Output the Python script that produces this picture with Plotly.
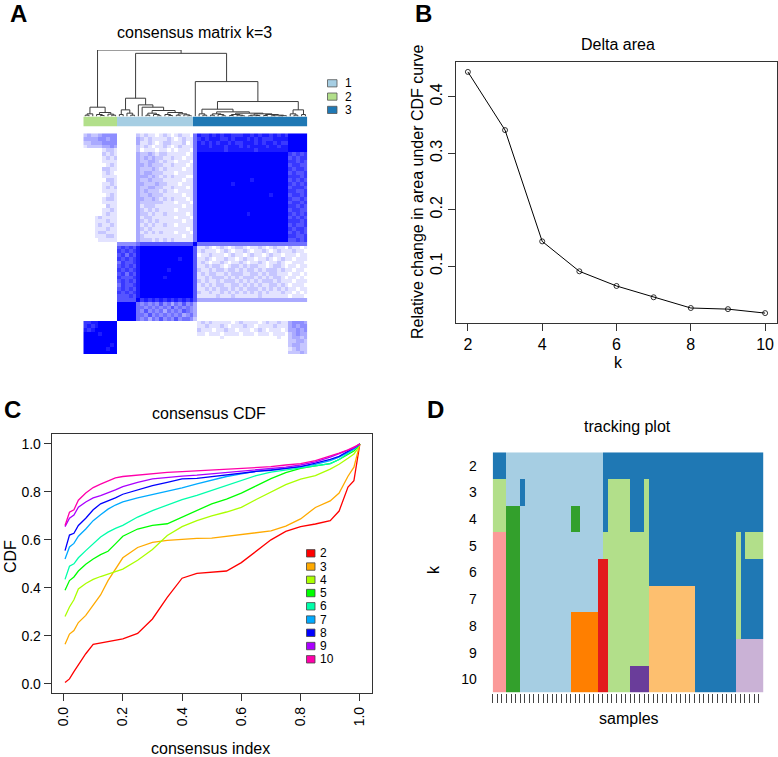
import plotly.graph_objects as go

W, H = 778, 757
FONT = "Liberation Sans, Arial, Helvetica, sans-serif"

# ---------------- A: consensus matrix, k=3 ----------------
# consensus level per cell, 0 (white) .. 9 (blue); rows top->bottom, columns in tree order
# column blocks: 9 | 5 | 1 | 14 | 1 | 24 | 5
cm_rows = [
    ("232234444", "00000", "2", "1211012" "1012110", "5", "877878" "788777" "887878" "878787", "99999"),
    ("333344344", "00000", "3", "2121111" "2101211", "5", "787888" "778788" "878787" "778888", "99999"),
    ("223334444", "00000", "3", "1121012" "2111201", "5", "878787" "887877" "888787" "887877", "99999"),
    ("122223343", "00000", "2", "1210112" "1012111", "5", "888788" "878887" "878888" "788788", "99999"),
    ("000001221", "00000", "2", "0111011" "0101110", "5", "888888" "878888" "888788" "888888", "99999"),
    ("000002121", "00000", "3", "2232122" "1111101", "5", "999999" "999999" "999999" "999999", "76767"),
    ("000001212", "00000", "3", "2323221" "1211011", "5", "999999" "999999" "999999" "999999", "67677"),
    ("000001111", "00000", "3", "2233212" "1101110", "5", "999999" "999999" "999999" "999999", "77676"),
    ("000000121", "00000", "3", "3232221" "1211101", "5", "999999" "999999" "999999" "999999", "67766"),
    ("000002211", "00000", "3", "2223212" "1111011", "5", "999999" "999999" "999999" "999999", "76776"),
    ("000001210", "00000", "3", "2332221" "1101111", "5", "999999" "999999" "999999" "999999", "67667"),
    ("000001111", "00000", "3", "3323212" "1211100", "5", "999999" "999999" "999999" "999999", "77767"),
    ("000000221", "00000", "3", "2232221" "1111011", "5", "999999" "999999" "998999" "999999", "67676"),
    ("000001121", "00000", "3", "3222322" "1110111", "5", "999999" "999899" "999999" "999999", "76767"),
    ("000001212", "00000", "3", "2233221" "1211101", "5", "999999" "999999" "999999" "999999", "67776"),
    ("000001111", "00000", "3", "2322212" "1101111", "5", "999999" "999999" "999999" "999999", "77667"),
    ("000000121", "00000", "3", "2232221" "1111011", "5", "999999" "999999" "999999" "989999", "67767"),
    ("000001221", "00000", "3", "3223212" "1211101", "5", "999999" "999999" "999999" "999999", "76676"),
    ("000001111", "00000", "3", "2222221" "1101110", "5", "999999" "999999" "999999" "999999", "67767"),
    ("000000211", "00000", "3", "1222111" "1111011", "5", "999999" "999999" "999999" "999999", "77676"),
    ("000001121", "00000", "3", "2121211" "1101111", "5", "999999" "999999" "999999" "999999", "67766"),
    ("000001211", "00000", "3", "2212112" "1111101", "5", "999999" "999999" "989999" "999999", "76767"),
    ("000121111", "00000", "3", "1221111" "1101110", "5", "999999" "999999" "999999" "999999", "67676"),
    ("000111211", "00000", "3", "2121211" "1111011", "5", "999999" "999999" "999999" "999999", "77767"),
    ("000121121", "00000", "3", "1212112" "1101111", "5", "999999" "999999" "999999" "999999", "67667"),
    ("000111211", "00000", "3", "2121111" "1111101", "5", "999999" "999999" "999999" "999999", "76776"),
    ("000122111", "00000", "3", "1212121" "1101110", "5", "999999" "999999" "999999" "999999", "67676"),
    ("000111221", "00000", "3", "2111111" "1111011", "5", "999999" "999999" "999999" "999999", "77667"),
    ("000011111", "00000", "3", "2221212" "1211111", "5", "999999" "999999" "999999" "999999", "66767"),
    ("000000000", "44444", "5", "6666666" "6666666", "9", "555555" "555555" "555555" "555555", "55555"),
    ("000000000", "67676", "8", "9999999" "9999999", "6", "112101" "210122" "101121" "012110", "21101"),
    ("000000000", "76767", "8", "9999999" "9999999", "6", "121110" "121011" "210112" "101211", "12110"),
    ("000000000", "67576", "8", "9999999" "9999999", "6", "011211" "101211" "012110" "121101", "11011"),
    ("000000000", "76767", "8", "9999999" "9998999", "6", "112101" "121101" "211011" "210121", "10111"),
    ("000000000", "57667", "8", "9999999" "9999999", "6", "121011" "210112" "101121" "011210", "01110"),
    ("000000000", "67676", "8", "9999999" "9999999", "6", "112122" "101221" "212211" "012210", "11011"),
    ("000000000", "76767", "8", "9999999" "8999999", "6", "211212" "212212" "122121" "222121", "10110"),
    ("000000000", "67576", "8", "9999999" "9999999", "6", "121221" "121222" "112212" "122111", "01101"),
    ("000000000", "76667", "8", "9999998" "9999999", "6", "112122" "212121" "222121" "212210", "11010"),
    ("000000000", "67676", "8", "9999999" "9999999", "6", "212112" "122212" "121212" "221211", "10111"),
    ("000000000", "57667", "8", "9999999" "9999999", "6", "121212" "211221" "212121" "122121", "01110"),
    ("000000000", "67676", "8", "9999999" "9999999", "6", "112121" "221212" "122212" "121212", "11011"),
    ("000000000", "76767", "8", "9999999" "9999999", "6", "211211" "212121" "212121" "211121", "10101"),
    ("000000000", "66676", "8", "9999999" "9999999", "6", "111112" "111211" "111121" "111111", "01110"),
    ("000000000", "66666", "9", "7878787" "8787878", "6", "333333" "333333" "333333" "333333", "33333"),
    ("000000000", "99999", "5", "4545464" "5354645", "3", "000000" "000000" "000000" "000000", "00000"),
    ("000000000", "99999", "5", "5454545" "4645454", "3", "000000" "000000" "000000" "000000", "00000"),
    ("000000000", "99999", "5", "4645453" "5454654", "3", "000000" "000000" "000000" "000000", "00000"),
    ("000000000", "99999", "5", "5464545" "4545345", "3", "000000" "000000" "000000" "000000", "00000"),
    ("000000000", "99999", "5", "4535464" "5464554", "2", "000000" "000000" "000000" "000000", "00000"),
    ("778899999", "00000", "0", "0000000" "0000000", "0", "121211" "111012" "111101" "211211", "34443"),
    ("787899999", "00000", "0", "0000000" "0000000", "0", "112111" "210111" "211011" "112111", "34344"),
    ("878999999", "00000", "0", "0000000" "0000000", "0", "211101" "121101" "110121" "011101", "33434"),
    ("999989999", "00000", "0", "0000000" "0000000", "0", "110111" "011110" "111011" "101110", "23433"),
    ("999999999", "00000", "0", "0000000" "0000000", "0", "000000" "100000" "000000" "000100", "23323"),
    ("999999999", "00000", "0", "0000000" "0000000", "0", "000000" "000000" "000000" "000000", "22332"),
    ("999999989", "00000", "0", "0000000" "0000000", "0", "000000" "000000" "000000" "000000", "23322"),
    ("999999899", "00000", "0", "0000000" "0000000", "0", "000000" "000000" "000000" "000000", "12322"),
    ("999999999", "00000", "0", "0000000" "0000000", "0", "000000" "000000" "000000" "000000", "22232"),
]

# k=3 cluster of each column (1, 2, 3), as runs of (cluster, count)
k3_runs = [(2, 9), (1, 20), (3, 30)]
k3_labels = ["1", "2", "3"]
k3_colors = ["#A6CEE3", "#B2DF8A", "#1F78B4"]

# sample tree above the matrix: (height, left, right), leaves are column numbers
tree_c2 = (0.14, (0.04, (0.02, 0, 1), 2), (0.06, (0.03, 3, (0.015, 4, 5)), (0.035, 6, (0.02, 7, 8))))
tree_c1 = (0.275,
           (0.1, (0.03, 9, 10), (0.05, 11, (0.02, 12, 13))),
           (0.175, 14, (0.14, 15, (0.09,
                                   (0.05, (0.02, 16, 17), (0.03, 18, (0.01, 19, 20))),
                                   (0.06, (0.03, 21, (0.015, 22, 23)),
                                    (0.04, (0.02, 24, 25), (0.025, 26, (0.01, 27, 28))))))))
tree_c3a = (0.11, (0.04, 30, (0.02, 31, 32)),
            (0.07, (0.04, (0.02, 33, 34), (0.03, 35, (0.01, 36, 37))),
             (0.05, (0.03, (0.015, 38, 39), (0.02, 40, (0.01, 41, 42))),
              (0.04, (0.02, (0.01, 43, 44), (0.015, 45, 46)),
               (0.03, (0.015, 47, 48), (0.02, (0.01, 49, 50), (0.012, (0.008, 51, 52), 53)))))))
tree_c3b = (0.1, (0.04, 54, (0.02, 55, 56)), (0.03, 57, 58))
tree_root = (1.0, tree_c2, (0.95, tree_c1, (0.525, 29, (0.225, tree_c3a, tree_c3b))))

# ---------------- B: delta area ----------------
k_values = [2, 3, 4, 5, 6, 7, 8, 9, 10]
delta_area = [0.444, 0.341, 0.144, 0.091, 0.065, 0.045, 0.026, 0.024, 0.017]

# ---------------- C: consensus CDF ----------------
cdf_x = [0.005, 0.02, 0.035, 0.05, 0.075, 0.1, 0.125, 0.15, 0.175, 0.2, 0.25, 0.3, 0.35, 0.4,
         0.45, 0.5, 0.55, 0.6, 0.65, 0.7, 0.75, 0.8, 0.85, 0.9, 0.93, 0.96, 0.98, 0.99, 1.0]
cdf_k2 = [0.005, 0.02, 0.05, 0.08, 0.125, 0.164, 0.17, 0.176, 0.181, 0.187, 0.21, 0.27, 0.36, 0.44,
          0.46, 0.464, 0.47, 0.505, 0.553, 0.6, 0.635, 0.655, 0.666, 0.68, 0.72, 0.82, 0.847, 0.917, 1.0]
cdf_k3 = [0.165, 0.207, 0.222, 0.255, 0.285, 0.325, 0.37, 0.43, 0.48, 0.525, 0.568, 0.589, 0.598, 0.603,
          0.606, 0.607, 0.615, 0.624, 0.629, 0.637, 0.657, 0.687, 0.735, 0.762, 0.795, 0.865, 0.903, 0.951, 1.0]
cdf_k4 = [0.28, 0.32, 0.35, 0.395, 0.418, 0.435, 0.447, 0.458, 0.468, 0.478, 0.515, 0.56, 0.618, 0.655,
          0.68, 0.7, 0.716, 0.735, 0.768, 0.8, 0.83, 0.853, 0.868, 0.895, 0.915, 0.94, 0.958, 0.975, 1.0]
cdf_k5 = [0.39, 0.43, 0.445, 0.47, 0.498, 0.52, 0.538, 0.552, 0.583, 0.615, 0.645, 0.66, 0.667, 0.695,
          0.72, 0.75, 0.77, 0.795, 0.825, 0.855, 0.88, 0.898, 0.908, 0.918, 0.935, 0.955, 0.97, 0.985, 1.0]
cdf_k6 = [0.435, 0.49, 0.5, 0.525, 0.555, 0.585, 0.612, 0.632, 0.648, 0.66, 0.695, 0.722, 0.745, 0.768,
          0.785, 0.805, 0.825, 0.845, 0.868, 0.882, 0.892, 0.9, 0.908, 0.918, 0.935, 0.96, 0.975, 0.987, 1.0]
cdf_k7 = [0.52, 0.57, 0.585, 0.615, 0.645, 0.68, 0.705, 0.728, 0.745, 0.758, 0.775, 0.788, 0.802, 0.817,
          0.833, 0.85, 0.864, 0.875, 0.886, 0.893, 0.898, 0.905, 0.915, 0.93, 0.945, 0.965, 0.978, 0.989, 1.0]
cdf_k8 = [0.555, 0.62, 0.627, 0.66, 0.69, 0.725, 0.75, 0.762, 0.775, 0.79, 0.808, 0.826, 0.84, 0.854,
          0.856, 0.864, 0.872, 0.879, 0.885, 0.89, 0.896, 0.905, 0.92, 0.935, 0.948, 0.968, 0.98, 0.99, 1.0]
cdf_k9 = [0.655, 0.69, 0.703, 0.736, 0.758, 0.775, 0.784, 0.795, 0.808, 0.822, 0.84, 0.854, 0.861, 0.866,
          0.87, 0.875, 0.882, 0.887, 0.892, 0.897, 0.903, 0.912, 0.925, 0.945, 0.958, 0.972, 0.983, 0.992, 1.0]
cdf_k10 = [0.66, 0.715, 0.725, 0.765, 0.795, 0.818, 0.832, 0.846, 0.858, 0.864, 0.87, 0.876, 0.881, 0.884,
           0.887, 0.89, 0.893, 0.897, 0.9, 0.905, 0.912, 0.918, 0.93, 0.948, 0.962, 0.975, 0.985, 0.993, 1.0]
cdf_curves = [cdf_k2, cdf_k3, cdf_k4, cdf_k5, cdf_k6, cdf_k7, cdf_k8, cdf_k9, cdf_k10]
cdf_colors = ["#FF0000", "#FFAA00", "#AAFF00", "#00FF00", "#00FFAA",
              "#00AAFF", "#0000FF", "#AA00FF", "#FF00AA"]

# ---------------- D: tracking plot ----------------
# cluster colour number of every sample for each k, as runs of (colour, count)
track_runs = [
    [(2, 3), (1, 21), (2, 35)],
    [(3, 3), (1, 3), (2, 1), (1, 17), (2, 1), (3, 5), (2, 3), (3, 1), (2, 25)],
    [(3, 3), (4, 3), (1, 11), (4, 2), (1, 5), (2, 1), (3, 5), (2, 3), (3, 1), (2, 25)],
    [(5, 3), (4, 3), (1, 18), (3, 10), (2, 19), (3, 1), (2, 1), (3, 4)],
    [(5, 3), (4, 3), (1, 17), (6, 2), (3, 9), (2, 19), (3, 1), (2, 5)],
    [(5, 3), (4, 3), (1, 17), (6, 2), (3, 9), (7, 10), (2, 9), (3, 1), (2, 5)],
    [(5, 3), (4, 3), (1, 11), (8, 6), (6, 2), (3, 9), (7, 10), (2, 9), (3, 1), (2, 5)],
    [(5, 3), (4, 3), (1, 11), (8, 6), (6, 2), (3, 9), (7, 10), (2, 9), (9, 6)],
    [(5, 3), (4, 3), (1, 11), (8, 6), (6, 2), (3, 5), (10, 4), (7, 10), (2, 9), (9, 6)],
]
paired = ["#A6CEE3", "#1F78B4", "#B2DF8A", "#33A02C", "#FB9A99",
          "#E31A1C", "#FDBF6F", "#FF7F00", "#CAB2D6", "#6A3D9A"]


def unrun(runs):
    out = []
    for val, cnt in runs:
        out += [val] * cnt
    return out


def tree_lines(node, xs, ys):
    if isinstance(node, int):
        return float(node), 0.0
    h, left, right = node
    xl, hl = tree_lines(left, xs, ys)
    xr, hr = tree_lines(right, xs, ys)
    xs += [xl, xl, xr, xr, None]
    ys += [hl, h, h, hr, None]
    return (xl + xr) / 2, h


def step_scale(colors):
    n = len(colors)
    scale = []
    for i, c in enumerate(colors):
        scale += [[i / n, c], [(i + 1) / n, c]]
    return scale


def fx(px):
    return px / W


def fy(py):
    return 1 - py / H


cm_z = [[int(ch) for ch in "".join(r)] for r in cm_rows]
n = len(cm_z)
assert all(len(r) == n for r in cm_z)
k3_ids = unrun(k3_runs)
track_z = [unrun(r) for r in track_runs]
assert all(len(r) == n for r in track_z)

tx, ty = [], []
tree_lines(tree_root, tx, ty)

fig = go.Figure()

fig.add_trace(go.Heatmap(z=cm_z, x=list(range(n)), y=list(range(n)), zmin=0, zmax=9,
                         colorscale=[[0, "#FFFFFF"], [1, "#0000FF"]], showscale=False,
                         xaxis="x", yaxis="y", hoverinfo="skip"))
fig.add_trace(go.Scatter(x=tx, y=ty, mode="lines", line=dict(color="#3c3c3c", width=1),
                         xaxis="x2", yaxis="y2", cliponaxis=False, hoverinfo="skip"))
fig.add_trace(go.Heatmap(z=[k3_ids], x=list(range(n)), y=[0], zmin=0.5, zmax=3.5,
                         colorscale=step_scale(k3_colors), showscale=False,
                         xaxis="x3", yaxis="y3", hoverinfo="skip"))

fig.add_trace(go.Scatter(x=k_values, y=delta_area, mode="lines+markers",
                         line=dict(color="black", width=1),
                         marker=dict(symbol="circle-open", size=5, color="black", line=dict(width=0.8)),
                         xaxis="x4", yaxis="y4", cliponaxis=False))

for k, ys, col in zip(k_values, cdf_curves, cdf_colors):
    fig.add_trace(go.Scatter(x=cdf_x, y=ys, mode="lines", name=str(k),
                             line=dict(color=col, width=1.3), xaxis="x5", yaxis="y5"))

fig.add_trace(go.Heatmap(z=track_z, x=list(range(n)), y=k_values, zmin=0.5, zmax=10.5,
                         colorscale=step_scale(paired), showscale=False,
                         xaxis="x6", yaxis="y6", hoverinfo="skip"))

hidden = dict(showgrid=False, zeroline=False, showticklabels=False, ticks="", showline=False)
boxed = dict(showgrid=False, zeroline=False, showline=True, mirror=True, linecolor="#333",
             linewidth=1, ticks="outside", ticklen=7, tickwidth=1, tickcolor="#333")

col_range = [-0.5, n - 0.5]
A_x = [fx(83.3), fx(307.3)]

layout_axes = dict(
    xaxis=dict(domain=A_x, range=col_range, anchor="y", **hidden),
    yaxis=dict(domain=[fy(354), fy(133.3)], range=[n - 0.5, -0.5], anchor="x", **hidden),
    xaxis2=dict(domain=A_x, range=col_range, anchor="y2", **hidden),
    yaxis2=dict(domain=[fy(116.5), fy(50)], range=[0, 1], anchor="x2", **hidden),
    xaxis3=dict(domain=A_x, range=col_range, anchor="y3", **hidden),
    yaxis3=dict(domain=[fy(126.5), fy(116.5)], range=[-0.5, 0.5], anchor="x3", **hidden),
    xaxis4=dict(domain=[fx(456), fx(777)], range=[1.68, 10.32], anchor="y4",
                tickvals=[2, 4, 6, 8, 10], tickfont=dict(size=16), **boxed),
    yaxis4=dict(domain=[fy(322.7), fy(62.3)], range=[0.0, 0.461], anchor="x4",
                tickvals=[0.1, 0.2, 0.3, 0.4], tickangle=-90, tickfont=dict(size=16), **boxed),
    xaxis5=dict(domain=[fx(51.7), fx(371.7)], range=[-0.04, 1.04], anchor="y5",
                tickvals=[0, 0.2, 0.4, 0.6, 0.8, 1.0],
                ticktext=["0.0", "0.2", "0.4", "0.6", "0.8", "1.0"],
                tickangle=-90, tickfont=dict(size=14), **boxed),
    yaxis5=dict(domain=[fy(693.3), fy(434.3)], range=[-0.04, 1.04], anchor="x5",
                tickvals=[0, 0.2, 0.4, 0.6, 0.8, 1.0],
                ticktext=["0.0", "0.2", "0.4", "0.6", "0.8", "1.0"],
                tickfont=dict(size=14), **boxed),
    xaxis6=dict(domain=[fx(492.7), fx(763.3)], range=col_range, anchor="y6",
                showgrid=False, zeroline=False, showline=False, showticklabels=False,
                tickvals=[i - 0.5 for i in range(n)], ticks="outside", ticklen=9,
                tickwidth=1, tickcolor="#444"),
    yaxis6=dict(domain=[fy(692.7), fy(452.3)], range=[10.5, 1.5], anchor="x6",
                showgrid=False, zeroline=False, showline=False,
                tickvals=k_values, ticktext=[str(k) for k in k_values],
                ticks="outside", ticklen=12, tickcolor="rgba(0,0,0,0)", tickfont=dict(size=14)),
)


def note(text, px, py, size=16, angle=0, xanchor="center", bold=False, pad=1):
    return dict(text="<b>%s</b>" % text if bold else text, x=fx(px), y=fy(py),
                xref="paper", yref="paper", xanchor=xanchor, yanchor="middle",
                showarrow=False, textangle=angle, borderpad=pad,
                font=dict(size=size, family=FONT, color="black"))


annotations = [
    note("A", 18, 14, 24, bold=True),
    note("B", 423, 14, 24, bold=True),
    note("C", 13, 409, 24, bold=True),
    note("D", 435, 410, 24, bold=True),
    note("consensus matrix k=3", 195, 32),
    note("Delta area", 618, 44),
    note("k", 618, 362),
    note("Relative change in area under CDF curve", 417, 192, angle=-90),
    note("consensus CDF", 209, 413),
    note("consensus index", 210, 748),
    note("CDF", 10, 557, angle=-90),
    note("tracking plot", 627, 426),
    note("samples", 629, 718),
    note("k", 433, 570, angle=-90),
]

shapes = []
# legend for the k=3 colour bar
for i, (lab, col) in enumerate(zip(k3_labels, k3_colors)):
    yc = 83.3 + i * 13.3
    shapes.append(dict(type="rect", xref="paper", yref="paper", x0=fx(327.5), x1=fx(337),
                       y0=fy(yc + 3.6), y1=fy(yc - 3.6), fillcolor=col,
                       line=dict(color="#555", width=0.8)))
    annotations.append(note(lab, 344, yc, 12, xanchor="left", pad=0))

# legend of the CDF curves
for i, (k, col) in enumerate(zip(k_values, cdf_colors)):
    yc = 553.3 + i * 13.25
    shapes.append(dict(type="rect", xref="paper", yref="paper", x0=fx(306.5), x1=fx(315),
                       y0=fy(yc + 3.7), y1=fy(yc - 3.7), fillcolor=col,
                       line=dict(color="#444", width=0.8)))
    annotations.append(note(str(k), 319, yc, 12, xanchor="left", pad=0))

fig.update_layout(
    width=W, height=H, autosize=False,
    margin=dict(l=0, r=0, t=0, b=0),
    paper_bgcolor="white", plot_bgcolor="white",
    showlegend=False,
    font=dict(family=FONT, color="black"),
    annotations=annotations, shapes=shapes,
    **layout_axes,
)

fig.write_html("out.html", config={"displayModeBar": False},
               post_script="document.body.style.margin='0px';")
